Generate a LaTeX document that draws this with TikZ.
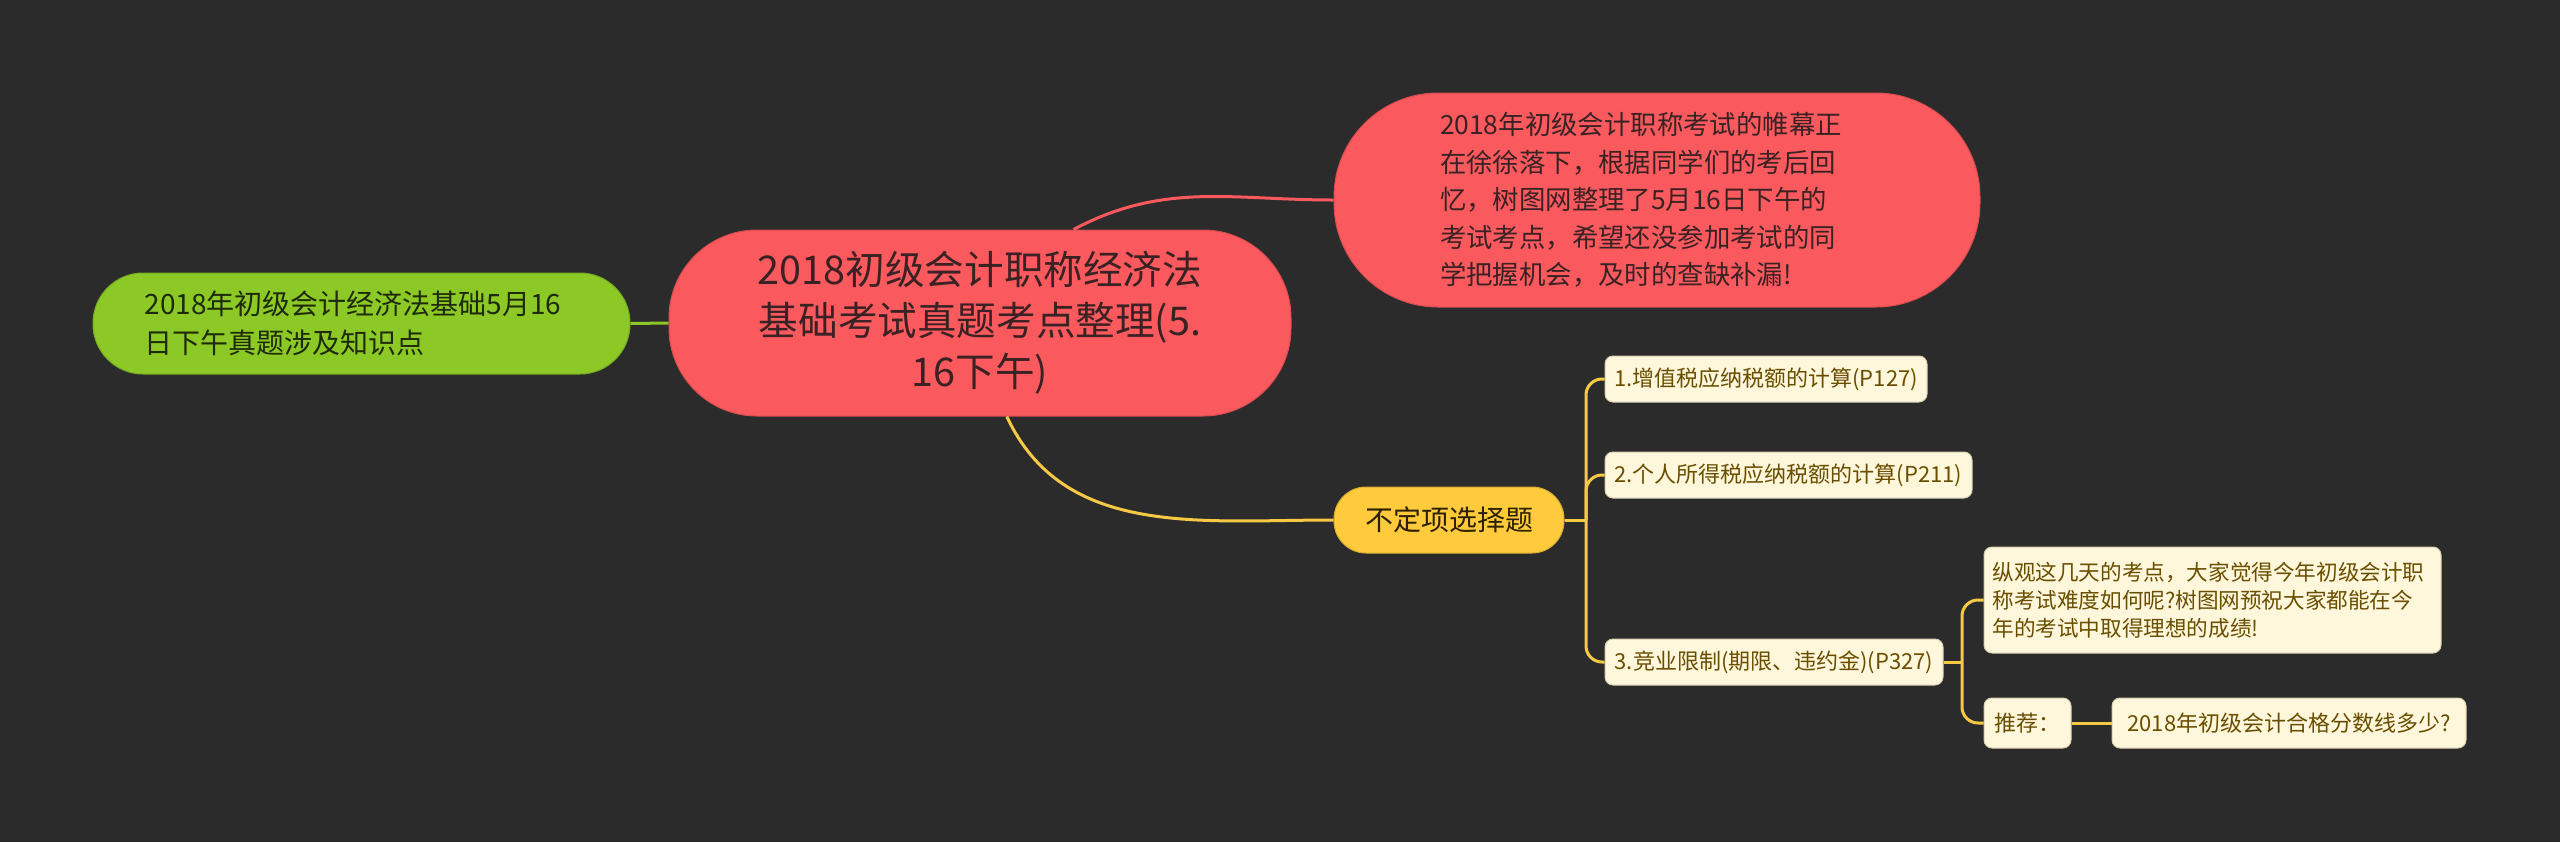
\documentclass[tikz,border=0pt]{standalone}
\usepackage{fontspec}
\setmainfont{Noto Sans CJK SC}
\definecolor{bgc}{HTML}{2B2B2B}
\definecolor{redf}{HTML}{FA5A5E}
\definecolor{redd}{HTML}{D84C50}
\definecolor{redt}{HTML}{3A2224}
\definecolor{grnf}{HTML}{8CC926}
\definecolor{grnt}{HTML}{1E2A08}
\definecolor{ylwf}{HTML}{FFCB3C}
\definecolor{ylwt}{HTML}{2B2000}
\definecolor{crmf}{HTML}{FFF7DC}
\definecolor{crmd}{HTML}{D9CFB0}
\definecolor{crmt}{HTML}{6A4E00}
\definecolor{ylwl}{HTML}{F6C945}
\tikzset{
  redbox/.style={draw=redd, line width=0.5pt, fill=redf, text=redt},
  grnbox/.style={draw=grnf!85!black, line width=0.5pt, fill=grnf, text=grnt},
  ylwbox/.style={draw=ylwf!85!black, line width=0.5pt, fill=ylwf, text=ylwt},
  crmbox/.style={draw=crmd, line width=0.5pt, fill=crmf, text=crmt, rounded corners=4pt,
    minimum height=23pt, inner sep=3pt, font=\fontsize{11}{14}\selectfont},
  redline/.style={draw=redf, line width=1.5pt},
  grnline/.style={draw=grnf, line width=1.5pt},
  ylwline/.style={draw=ylwl, line width=1.5pt},
  brk/.style={draw=ylwl, line width=1.5pt, rounded corners=8pt},
}
\begin{document}
\begin{tikzpicture}[x=0.5pt,y=-0.5pt]
\fill[bgc] (0,0) rectangle (2560,842);
\useasboundingbox (0,0) rectangle (2560,842);

% nodes
\node[redbox, rounded corners=44pt, minimum width=311pt, minimum height=93pt,
  text width=230pt, align=center, font=\fontsize{19.8}{25.5}\selectfont]
  (central) at (980,323) {2018初级会计职称经济法\\基础考试真题考点整理(5.\\16下午)};

\node[redbox, rounded corners=52pt, minimum width=323pt, minimum height=107pt,
  text width=217pt, align=left, font=\fontsize{13.2}{18.75}\selectfont]
  (intro) at (1657,200) {2018年初级会计职称考试的帷幕正\\在徐徐落下，根据同学们的考后回\\忆，树图网整理了5月16日下午的\\考试考点，希望还没参加考试的同\\学把握机会，及时的查缺补漏!};

\node[grnbox, rounded corners=25pt, minimum width=268.5pt, minimum height=50.5pt,
  text width=217pt, align=left, font=\fontsize{14}{19.5}\selectfont]
  (green) at (361.5,323.5) {2018年初级会计经济法基础5月16\\日下午真题涉及知识点};

\node[ylwbox, rounded corners=16pt, minimum width=115pt, minimum height=33pt,
  font=\fontsize{14}{17}\selectfont]
  (multi) at (1449,520) {不定项选择题};

\node[crmbox, minimum width=161pt] (i1) at (1766,379) {1.增值税应纳税额的计算(P127)};
\node[crmbox, minimum width=183.5pt] (i2) at (1788.5,475) {2.个人所得税应纳税额的计算(P211)};
\node[crmbox, minimum width=169pt] (i3) at (1774,662) {3.竞业限制(期限、违约金)(P327)};

\node[crmbox, minimum width=228.5pt, minimum height=53pt, text width=220pt, align=left,
  inner xsep=4pt, font=\fontsize{10.8}{14}\selectfont]
  (comment) at (2212.5,600) {纵观这几天的考点，大家觉得今年初级会计职\\称考试难度如何呢?树图网预祝大家都能在今\\年的考试中取得理想的成绩!};

\node[crmbox, minimum width=43.5pt, minimum height=25pt] (rec) at (2027.5,723) {推荐：};
\node[crmbox, minimum width=177pt, minimum height=25pt] (q) at (2289,723) {2018年初级会计合格分数线多少?};

% connectors
\coordinate (b1) at (1586,520);
\coordinate (b2) at (1962,662);

\draw[grnline] (green.east) -- (central.west);
\draw[redline] (central.45) to[out=28,in=180] (intro.west);
\draw[ylwline] (central.-74) to[out=-65,in=180] (multi.west);

\draw[ylwline] (multi.east) -- (b1);
\draw[brk] (b1) |- (i1.west);
\draw[brk] (b1) |- (i2.west);
\draw[brk] (b1) |- (i3.west);

\draw[ylwline] (i3.east) -- (b2);
\draw[brk] (b2) |- (comment.west);
\draw[brk] (b2) |- (rec.west);
\draw[ylwline] (rec.east) -- (q.west);
\end{tikzpicture}
\end{document}
